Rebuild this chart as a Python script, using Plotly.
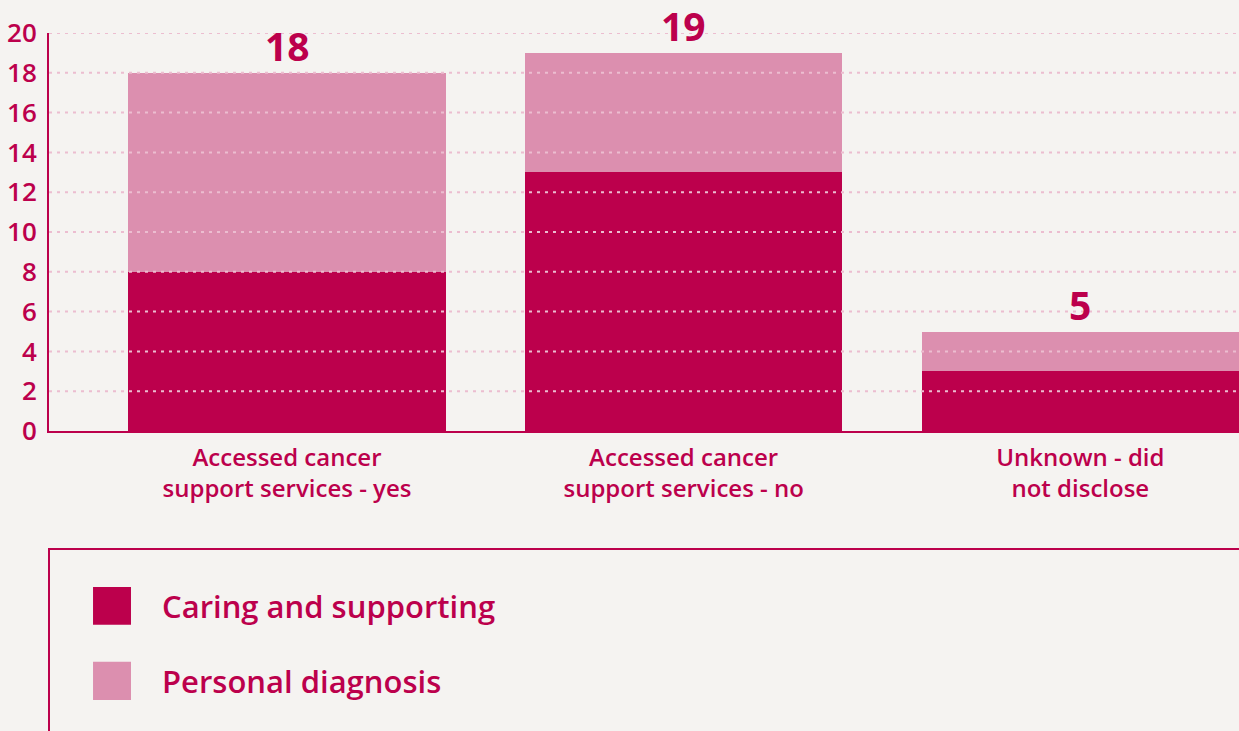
import plotly.graph_objects as go

categories = ["Accessed cancer<br>support services - yes",
              "Accessed cancer<br>support services - no",
              "Unknown - did<br>not disclose"]
caring = [8, 13, 3]
personal = [10, 6, 2]
series_names = ["Caring and supporting", "Personal diagnosis"]
y_ticks = [0, 2, 4, 6, 8, 10, 12, 14, 16, 18, 20]

DARK = "#bc004c"
LIGHT = "#dc8faf"
BG = "#f5f3f1"
GRID = "#ecbdd0"
FONT = "Open Sans"

totals = [a + b for a, b in zip(caring, personal)]
xs = list(range(len(categories)))

fig = go.Figure()
fig.add_bar(x=xs, y=caring, name=series_names[0], marker=dict(color=DARK, line_width=0), showlegend=False)
fig.add_bar(x=xs, y=personal, name=series_names[1], marker=dict(color=LIGHT, line_width=0), showlegend=False)

# dotted gridlines drawn above bars
for t in y_ticks[1:]:
    fig.add_shape(type="line", xref="paper", yref="y", x0=0, x1=1.01, y0=t, y1=t,
                  line=dict(color=GRID, width=2, dash="3px,5px"), layer="above")

# totals
for x, tot in zip(xs, totals):
    fig.add_annotation(x=x, y=tot, text=f"<b>{tot}</b>", showarrow=False, yanchor="bottom",
                       yshift=-1, font=dict(family=FONT, size=39, color=DARK))

# custom legend box
fig.add_shape(type="rect", xref="paper", yref="paper", x0=0, x1=1.02, y0=-0.80, y1=-0.2965,
              line=dict(color=DARK, width=2), fillcolor="rgba(0,0,0,0)", layer="above")
legend_rows = [(-0.392, -0.487, DARK), (-0.580, -0.676, LIGHT)]
for name, (ya, yb, col) in zip(series_names, legend_rows):
    fig.add_shape(type="rect", xref="paper", yref="paper", x0=0.037, x1=0.0689, y0=yb, y1=ya,
                  line_width=0, fillcolor=col)
    fig.add_annotation(xref="paper", yref="paper", x=0.0933, y=(ya + yb) / 2, text=name,
                       showarrow=False, xanchor="left", yanchor="middle",
                       font=dict(family=FONT, size=31, color=DARK, weight=600))

fig.update_layout(
    width=1239, height=731,
    margin=dict(l=49, r=0, t=33, b=300),
    paper_bgcolor=BG, plot_bgcolor=BG,
    barmode="stack", bargap=0.2,
    font=dict(family=FONT, color=DARK),
    xaxis=dict(range=[-0.6, 2.4], tickvals=xs, ticktext=categories, showgrid=False,
               showline=True, linecolor=DARK, linewidth=2, ticks="outside", ticklen=4,
               tickcolor="rgba(0,0,0,0)", tickfont=dict(family=FONT, size=24, color=DARK, weight=600),
               zeroline=False, fixedrange=True),
    yaxis=dict(range=[0, 20], tickvals=y_ticks, showgrid=False, showline=True, linecolor=DARK,
               linewidth=2, zeroline=False, ticks="outside", ticklen=5, tickcolor="rgba(0,0,0,0)",
               tickfont=dict(family=FONT, size=26, color=DARK, weight=600), fixedrange=True),
)

fig.write_html("out.html", config={"displayModeBar": False},
               post_script="document.body.style.margin='0';document.body.style.overflow='hidden';")
